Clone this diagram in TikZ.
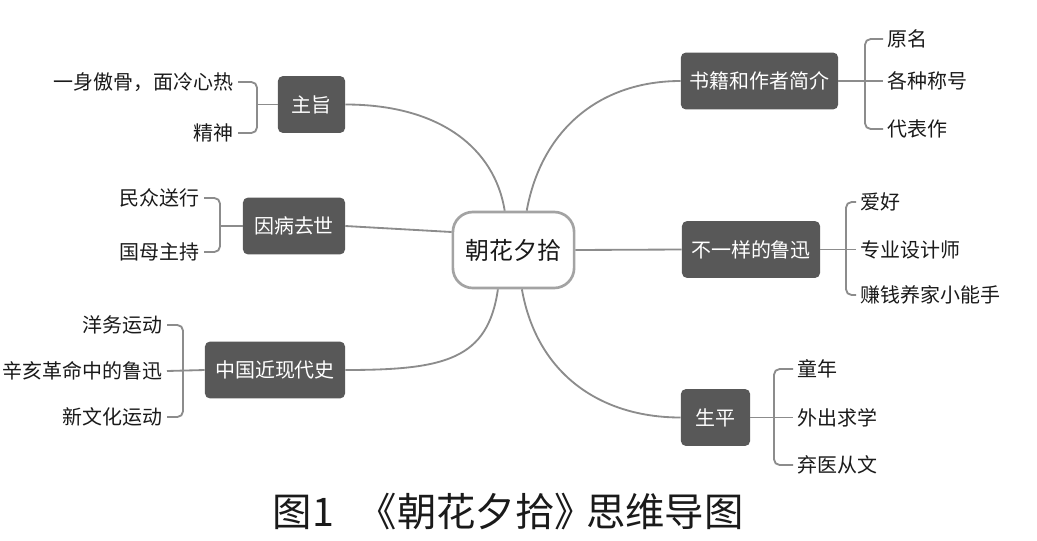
\documentclass[tikz,border=0pt]{standalone}
\usepackage{fontspec}
\setmainfont{Noto Sans CJK SC}
\usepackage{xcolor}
\definecolor{tinta}{HTML}{1A1A1A}
\definecolor{caja}{HTML}{585858}
\definecolor{linea}{HTML}{8C8C8C}
\definecolor{borde}{HTML}{A3A3A3}

\begin{document}
\begin{tikzpicture}[x=0.025cm,y=-0.025cm,
    zhong/.style={draw=borde,line width=1.9pt,fill=white,rounded corners=0.5cm,
                  minimum width=3.03cm,minimum height=1.9cm,
                  font=\fontsize{17}{20}\selectfont\color{tinta}},
    zhi/.style={fill=caja,rounded corners=3.5pt,minimum height=1.42cm,
                inner xsep=0.1cm,font=\fontsize{14.2}{17}\selectfont\color{white}},
    ye/.style={font=\fontsize{14.2}{17}\selectfont\color{tinta},inner xsep=3pt},
    lian/.style={draw=linea,line width=1.3pt},
    kuo/.style={draw=linea,line width=1.3pt,rounded corners=4pt}]
  \useasboundingbox[fill=white] (0,0) rectangle (1037,540);

  \node[zhong] (ch) at (513.5,250) {朝花夕拾};

  % ramas de la izquierda
  \node[zhi,minimum width=1.68cm] (zz) at (311.5,104.5) {主旨};
  \node[zhi,minimum width=2.55cm] (yb) at (294,226) {因病去世};
  \node[zhi,minimum width=3.5cm] (zg) at (275,370) {中国近现代史};
  % ramas de la derecha
  \node[zhi,minimum width=3.93cm] (sj) at (759.5,81) {书籍和作者简介};
  \node[zhi,minimum width=3.45cm] (by) at (751,249.5) {不一样的鲁迅};
  \node[zhi,minimum width=1.73cm] (sp) at (715.5,417.5) {生平};

  % hojas
  \node[ye,anchor=east] (zz1) at (238,82) {一身傲骨，面冷心热};
  \node[ye,anchor=east] (zz2) at (238,133) {精神};
  \node[ye,anchor=east] (yb1) at (204,198) {民众送行};
  \node[ye,anchor=east] (yb2) at (204,252) {国母主持};
  \node[ye,anchor=east] (zg1) at (167,325) {洋务运动};
  \node[ye,anchor=east] (zg2) at (167,371) {辛亥革命中的鲁迅};
  \node[ye,anchor=east] (zg3) at (167,417) {新文化运动};
  \node[ye,anchor=west] (sj1) at (883,39) {原名};
  \node[ye,anchor=west] (sj2) at (883,81) {各种称号};
  \node[ye,anchor=west] (sj3) at (883,129) {代表作};
  \node[ye,anchor=west] (by1) at (856,202) {爱好};
  \node[ye,anchor=west] (by2) at (856,249.5) {专业设计师};
  \node[ye,anchor=west] (by3) at (856,295) {赚钱养家小能手};
  \node[ye,anchor=west] (sp1) at (793,369) {童年};
  \node[ye,anchor=west] (sp2) at (793,417.5) {外出求学};
  \node[ye,anchor=west] (sp3) at (793,465) {弃医从文};

  % del centro a las ramas
  \draw[lian] (zz.east) .. controls +(95,0) and +(-10,-62) .. ([xshift=-0.22cm]ch.north);
  \draw[lian] (yb.east) -- ([yshift=0.45cm]ch.west);
  \draw[lian] (zg.east) .. controls +(100,0) and +(-10,70) .. ([xshift=-0.39cm]ch.south);
  \draw[lian] ([xshift=0.33cm]ch.north) .. controls +(15,-82) and +(-80,0) .. (sj.west);
  \draw[lian] (ch.east) -- (by.west);
  \draw[lian] ([xshift=0.21cm]ch.south) .. controls +(15,85) and +(-80,0) .. (sp.west);

  % llaves
  \draw[kuo] (zz1.east) -| (257,104.5) |- (zz2.east);
  \draw[lian] (zz.west) -- (257,104.5);
  \draw[kuo] (yb1.east) -| (220,226) |- (yb2.east);
  \draw[lian] (yb.west) -- (220,226);
  \draw[kuo] (zg1.east) -| (183,371) |- (zg3.east);
  \draw[lian] (zg.west) -- (zg2.east);
  \draw[kuo] (sj1.west) -| (865,81) |- (sj3.west);
  \draw[lian] (sj.east) -- (sj2.west);
  \draw[kuo] (by1.west) -| (846,249.5) |- (by3.west);
  \draw[lian] (by.east) -- (by2.west);
  \draw[kuo] (sp1.west) -| (774,417.5) |- (sp3.west);
  \draw[lian] (sp.east) -- (sp2.west);

  \node[anchor=west,font=\fontsize{28}{32}\selectfont\color{tinta}] (tu) at (268,512)
    {图1\hspace{0.6em}《朝花夕拾》\hspace{-0.2em}思维导图};
\end{tikzpicture}
\end{document}
